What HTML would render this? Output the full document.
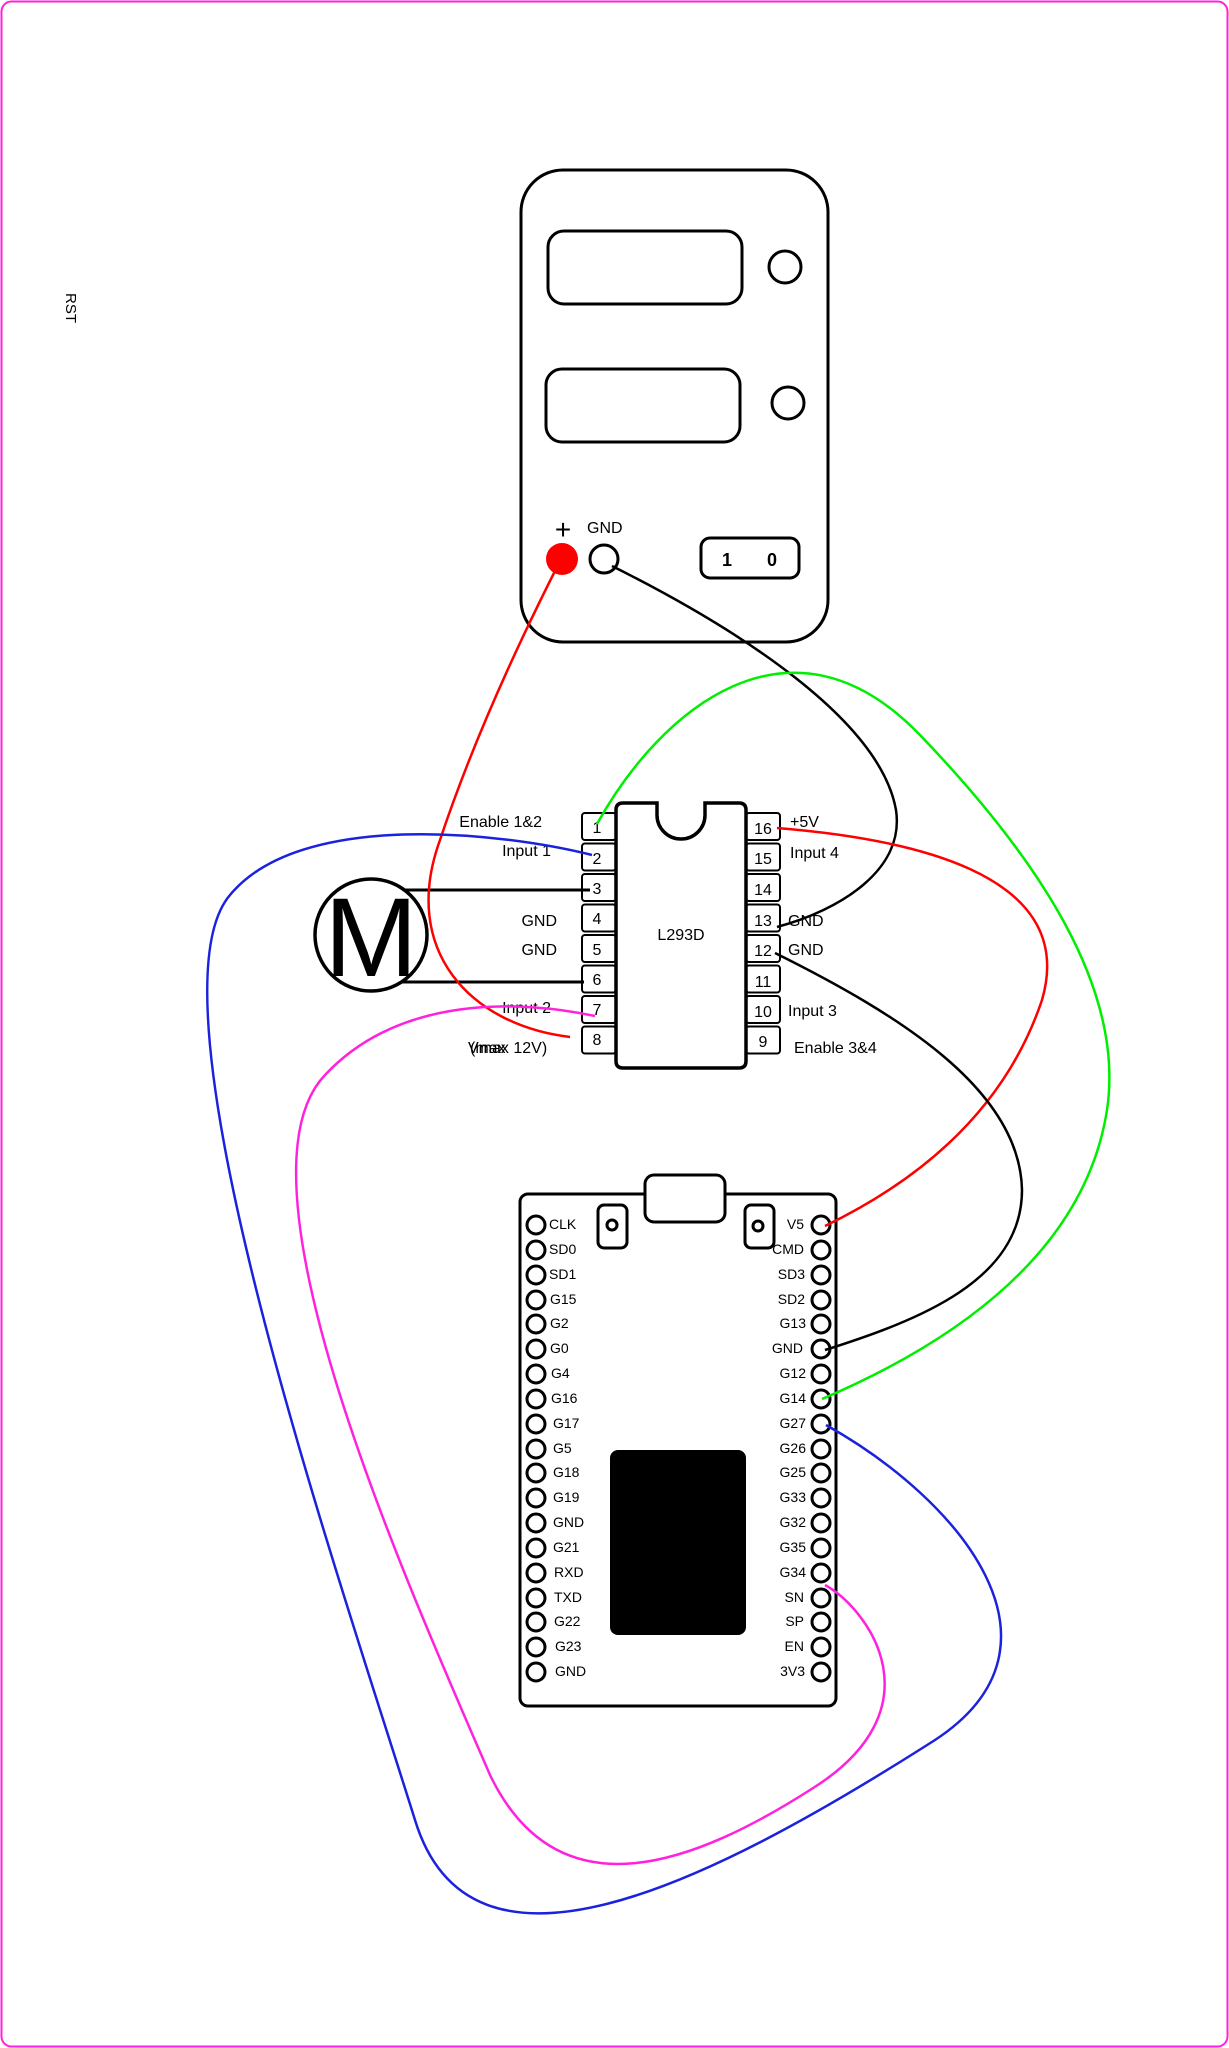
<!DOCTYPE html>
<html><head><meta charset="utf-8"><style>html,body{margin:0;padding:0;background:#fff}svg{display:block}</style></head>
<body>
<svg width="1229" height="2048" viewBox="0 0 1229 2048" xmlns="http://www.w3.org/2000/svg" font-family="Liberation Sans, sans-serif">
<rect x="1.5" y="1.5" width="1226" height="2045" rx="10" fill="#fff" stroke="#ff22dd" stroke-width="2"/>
<text x="66" y="308" font-size="15" transform="rotate(90 66 308)" text-anchor="middle">RST</text>

<!-- battery -->
<g fill="none" stroke="#000" stroke-width="3">
<rect x="521" y="170" width="307" height="472" rx="42"/>
<rect x="548" y="231" width="194" height="73" rx="16"/>
<rect x="546" y="369" width="194" height="73" rx="16"/>
<circle cx="785" cy="267" r="16"/>
<circle cx="788" cy="403" r="16"/>
<circle cx="604" cy="559" r="14"/>
<rect x="701" y="538" width="98" height="40" rx="9"/>
</g>
<circle cx="562" cy="559" r="16" fill="#ff0000"/>
<text x="563" y="539" font-size="28" text-anchor="middle">+</text>
<text x="587" y="533" font-size="16">GND</text>
<text x="722" y="566" font-size="18" font-weight="bold">1</text>
<text x="767" y="566" font-size="18" font-weight="bold">0</text>

<!-- L293D -->
<g fill="#fff" stroke="#000" stroke-width="2">
<rect x="582" y="813" width="34" height="27" rx="3"/><rect x="582" y="843.5" width="34" height="27" rx="3"/>
<rect x="582" y="874" width="34" height="27" rx="3"/><rect x="582" y="904.5" width="34" height="27" rx="3"/>
<rect x="582" y="935" width="34" height="27" rx="3"/><rect x="582" y="965.5" width="34" height="27" rx="3"/>
<rect x="582" y="996" width="34" height="27" rx="3"/><rect x="582" y="1026.5" width="34" height="27" rx="3"/>
<rect x="746" y="813" width="34" height="27" rx="3"/><rect x="746" y="843.5" width="34" height="27" rx="3"/>
<rect x="746" y="874" width="34" height="27" rx="3"/><rect x="746" y="904.5" width="34" height="27" rx="3"/>
<rect x="746" y="935" width="34" height="27" rx="3"/><rect x="746" y="965.5" width="34" height="27" rx="3"/>
<rect x="746" y="996" width="34" height="27" rx="3"/><rect x="746" y="1026.5" width="34" height="27" rx="3"/>
</g>
<path d="M623,803 L657,803 L657,815 A24,24 0 0 0 705,815 L705,803 L739,803 Q746,803 746,810 L746,1061 Q746,1068 739,1068 L623,1068 Q616,1068 616,1061 L616,810 Q616,803 623,803 Z" fill="#fff" stroke="#000" stroke-width="3.5"/>
<text x="681" y="940" font-size="16" text-anchor="middle">L293D</text>
<g font-size="16" text-anchor="middle">
<text x="597" y="833">1</text><text x="597" y="864">2</text><text x="597" y="894">3</text><text x="597" y="924">4</text>
<text x="597" y="955">5</text><text x="597" y="985">6</text><text x="597" y="1015">7</text><text x="597" y="1045">8</text>
<text x="763" y="834">16</text><text x="763" y="864">15</text><text x="763" y="895">14</text><text x="763" y="926">13</text>
<text x="763" y="956">12</text><text x="763" y="987">11</text><text x="763" y="1017">10</text><text x="763" y="1047">9</text>
</g>
<g font-size="16">
<text x="542" y="827" text-anchor="end">Enable 1&amp;2</text>
<text x="551" y="856" text-anchor="end">Input 1</text>
<text x="557" y="926" text-anchor="end">GND</text>
<text x="557" y="955" text-anchor="end">GND</text>
<text x="551" y="1013" text-anchor="end">Input 2</text>
<text x="468" y="1053">Vmax 12V)</text><text x="470" y="1053">(max</text>
<text x="790" y="827">+5V</text>
<text x="790" y="858">Input 4</text>
<text x="788" y="926">GND</text>
<text x="788" y="955">GND</text>
<text x="788" y="1016">Input 3</text>
<text x="794" y="1053">Enable 3&amp;4</text>
</g>

<!-- motor -->
<line x1="405" y1="890" x2="590" y2="890" stroke="#000" stroke-width="3"/>
<line x1="400" y1="982" x2="584" y2="982" stroke="#000" stroke-width="3"/>
<circle cx="371" cy="935" r="56" fill="#fff" stroke="#000" stroke-width="3.5"/>
<text x="371" y="976" font-size="112" text-anchor="middle">M</text>

<!-- ESP32 -->
<g fill="#fff" stroke="#000" stroke-width="3">
<rect x="520" y="1194" width="316" height="512" rx="8"/>
<rect x="645" y="1175" width="80" height="47" rx="9"/>
<rect x="598" y="1205" width="29" height="43" rx="6"/>
<rect x="745" y="1205" width="29" height="43" rx="6"/>
<circle cx="612" cy="1225" r="5"/><circle cx="758" cy="1226" r="5"/>
</g>
<rect x="610" y="1450" width="136" height="185" rx="8" fill="#000"/>
<g fill="none" stroke="#000" stroke-width="3">
<circle cx="536" cy="1225" r="9"/><circle cx="536" cy="1250" r="9"/><circle cx="536" cy="1275" r="9"/><circle cx="536" cy="1300" r="9"/>
<circle cx="536" cy="1324" r="9"/><circle cx="536" cy="1349" r="9"/><circle cx="536" cy="1374" r="9"/><circle cx="536" cy="1399" r="9"/>
<circle cx="536" cy="1424" r="9"/><circle cx="536" cy="1449" r="9"/><circle cx="536" cy="1473" r="9"/><circle cx="536" cy="1498" r="9"/>
<circle cx="536" cy="1523" r="9"/><circle cx="536" cy="1548" r="9"/><circle cx="536" cy="1573" r="9"/><circle cx="536" cy="1598" r="9"/>
<circle cx="536" cy="1622" r="9"/><circle cx="536" cy="1647" r="9"/><circle cx="536" cy="1672" r="9"/>
<circle cx="821" cy="1225" r="9"/><circle cx="821" cy="1250" r="9"/><circle cx="821" cy="1275" r="9"/><circle cx="821" cy="1300" r="9"/>
<circle cx="821" cy="1324" r="9"/><circle cx="821" cy="1349" r="9"/><circle cx="821" cy="1374" r="9"/><circle cx="821" cy="1399" r="9"/>
<circle cx="821" cy="1424" r="9"/><circle cx="821" cy="1449" r="9"/><circle cx="821" cy="1473" r="9"/><circle cx="821" cy="1498" r="9"/>
<circle cx="821" cy="1523" r="9"/><circle cx="821" cy="1548" r="9"/><circle cx="821" cy="1573" r="9"/><circle cx="821" cy="1598" r="9"/>
<circle cx="821" cy="1622" r="9"/><circle cx="821" cy="1647" r="9"/><circle cx="821" cy="1672" r="9"/>
</g>
<g font-size="14">
<text x="549" y="1229">CLK</text><text x="549" y="1254">SD0</text><text x="549" y="1279">SD1</text><text x="550" y="1304">G15</text>
<text x="550" y="1328">G2</text><text x="550" y="1353">G0</text><text x="551" y="1378">G4</text><text x="551" y="1403">G16</text>
<text x="553" y="1428">G17</text><text x="553" y="1453">G5</text><text x="553" y="1477">G18</text><text x="553" y="1502">G19</text>
<text x="553" y="1527">GND</text><text x="553" y="1552">G21</text><text x="554" y="1577">RXD</text><text x="554" y="1602">TXD</text>
<text x="554" y="1626">G22</text><text x="555" y="1651">G23</text><text x="555" y="1676">GND</text>
</g>
<g font-size="14" text-anchor="end">
<text x="804" y="1229">V5</text><text x="804" y="1254">CMD</text><text x="805" y="1279">SD3</text><text x="805" y="1304">SD2</text>
<text x="806" y="1328">G13</text><text x="803" y="1353">GND</text><text x="806" y="1378">G12</text><text x="806" y="1403">G14</text>
<text x="806" y="1428">G27</text><text x="806" y="1453">G26</text><text x="806" y="1477">G25</text><text x="806" y="1502">G33</text>
<text x="806" y="1527">G32</text><text x="806" y="1552">G35</text><text x="806" y="1577">G34</text><text x="804" y="1602">SN</text>
<text x="804" y="1626">SP</text><text x="804" y="1651">EN</text><text x="805" y="1676">3V3</text>
</g>

<!-- wires -->
<g fill="none" stroke-width="2.5">
<path d="M557,567 C510,660 470,750 440,840 C400,950 470,1025 570,1037" stroke="#ff0000"/>
<path d="M612,566 C740,630 880,720 896,810 C905,870 840,910 777,927" stroke="#000"/>
<path d="M597,824 C660,710 790,600 920,735 C1040,860 1125,990 1107,1110 C1085,1250 960,1340 822,1399" stroke="#00ee00"/>
<path d="M777,828 C900,838 1080,870 1042,1000 C1005,1110 920,1180 825,1226" stroke="#ff0000"/>
<path d="M775,953 C900,1015 1020,1090 1022,1190 C1022,1280 920,1320 825,1350" stroke="#000"/>
<path d="M592,855 C500,832 300,810 230,895 C140,1000 340,1580 415,1820 C470,2000 700,1890 935,1740 C1080,1645 960,1500 826,1425" stroke="#1a22dd"/>
<path d="M595,1016 C520,1000 400,995 325,1075 C225,1180 410,1590 490,1775 C560,1920 700,1860 810,1790 C940,1710 870,1610 825,1585" stroke="#ff22dd"/>
</g>
</svg>
</body></html>
